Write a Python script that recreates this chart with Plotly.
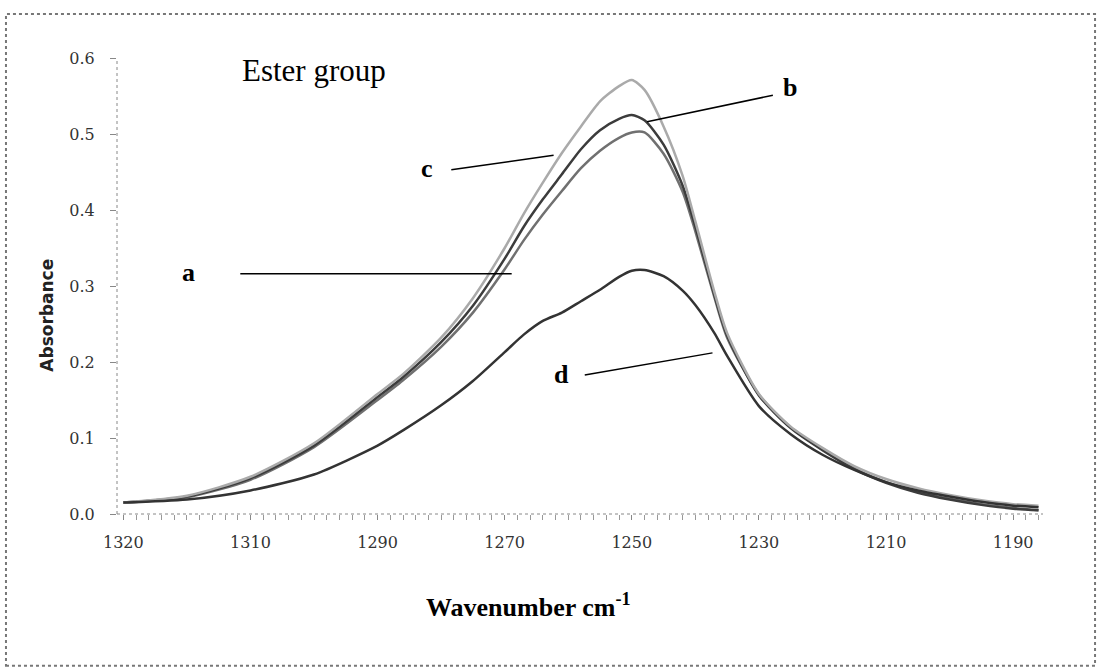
import plotly.graph_objects as go

# Wavenumber (cm-1) sample positions
wavenumber = [1330, 1320, 1310, 1300, 1290, 1286, 1280, 1275, 1270, 1267, 1264, 1261, 1258,
              1255, 1252, 1250, 1248, 1245, 1242, 1240, 1237, 1235, 1230, 1225, 1220,
              1215, 1210, 1205, 1200, 1195, 1190, 1186]

absorb_a = [0.015, 0.022, 0.045, 0.088, 0.150, 0.176, 0.220, 0.265, 0.322, 0.360, 0.394, 0.425, 0.455,
            0.478, 0.495, 0.502, 0.502, 0.474, 0.424, 0.372, 0.285, 0.232, 0.157, 0.114, 0.085,
            0.060, 0.042, 0.029, 0.020, 0.013, 0.008, 0.005]
absorb_b = [0.015, 0.023, 0.047, 0.090, 0.154, 0.180, 0.226, 0.274, 0.336, 0.378, 0.414, 0.447, 0.480,
            0.505, 0.520, 0.525, 0.518, 0.486, 0.432, 0.378, 0.288, 0.235, 0.156, 0.113, 0.084,
            0.059, 0.041, 0.028, 0.019, 0.012, 0.007, 0.005]
absorb_c = [0.015, 0.024, 0.049, 0.093, 0.158, 0.184, 0.232, 0.284, 0.350, 0.395, 0.436, 0.475, 0.510,
            0.543, 0.563, 0.571, 0.558, 0.510, 0.445, 0.385, 0.292, 0.238, 0.158, 0.115, 0.087,
            0.063, 0.046, 0.034, 0.025, 0.018, 0.013, 0.011]
absorb_d = [0.015, 0.019, 0.031, 0.052, 0.090, 0.110, 0.143, 0.175, 0.213, 0.236, 0.254, 0.265, 0.280,
            0.295, 0.312, 0.320, 0.321, 0.313, 0.294, 0.275, 0.238, 0.208, 0.142, 0.105, 0.078,
            0.058, 0.042, 0.031, 0.023, 0.016, 0.011, 0.009]

series_names = ["a", "b", "c", "d"]
series_colors = ["#707070", "#3c3c3c", "#aaaaaa", "#333333"]

x_tick_vals = [1330, 1310, 1290, 1270, 1250, 1230, 1210, 1190]
x_tick_text = ["1320", "1310", "1290", "1270", "1250", "1230", "1210", "1190"]
y_tick_vals = [0.0, 0.1, 0.2, 0.3, 0.4, 0.5, 0.6]

fig = go.Figure()
for name, ys, col in zip(series_names, [absorb_a, absorb_b, absorb_c, absorb_d], series_colors):
    fig.add_trace(go.Scatter(x=wavenumber, y=ys, mode="lines", name=name,
                             line=dict(color=col, width=2.5, shape="spline", smoothing=0.7),
                             showlegend=False))

serif = "Liberation Serif"

fig.update_layout(
    width=1101, height=670,
    margin=dict(l=117, r=58, t=58, b=156),
    paper_bgcolor="white", plot_bgcolor="white",
    xaxis=dict(range=[1331, 1185.3], autorange=False, showgrid=False, zeroline=False,
               showline=False, tickvals=x_tick_vals, ticktext=x_tick_text,
               ticks="outside", ticklen=5, tickcolor="#888", tickwidth=1,
               ticklabelstandoff=9,
               tickfont=dict(family="DejaVu Serif", size=16, color="#333"),
               minor=dict(dtick=2, tick0=1330, ticks="outside", ticklen=5, tickcolor="#999", tickwidth=1)),
    yaxis=dict(range=[0, 0.6], autorange=False, showgrid=False, zeroline=False,
               showline=False, tickvals=y_tick_vals, tickformat=".1f",
               ticks="outside", ticklen=6, tickcolor="#888", tickwidth=1,
               ticklabelstandoff=12,
               tickfont=dict(family="DejaVu Serif", size=16, color="#333")),
)

# dotted axis lines
fig.add_shape(type="line", xref="paper", yref="paper", x0=0, x1=1, y0=0, y1=0,
              line=dict(color="#888", width=1, dash="dot"))
fig.add_shape(type="line", xref="paper", yref="paper", x0=0, x1=0, y0=0, y1=1,
              line=dict(color="#888", width=1, dash="dot"))
# chart area border
fig.add_shape(type="rect", xref="paper", yref="paper", x0=-0.1199, x1=1.0562, y0=-0.333, y1=1.0965,
              line=dict(color="#777", width=2, dash="dot"))

# pointer lines for labels
pointers = [
    (1311.6, 0.316, 1268.9, 0.316),
    (1227.8, 0.551, 1247.6, 0.516),
    (1278.4, 0.453, 1262.3, 0.472),
    (1257.4, 0.183, 1237.3, 0.212),
]
for x0, y0, x1, y1 in pointers:
    fig.add_shape(type="line", xref="x", yref="y", x0=x0, y0=y0, x1=x1, y1=y1,
                  line=dict(color="black", width=1.5))

labels = [("a", 1319.8, 0.318), ("b", 1225.1, 0.561), ("c", 1282.3, 0.455), ("d", 1261.0, 0.183)]
for t, x, y in labels:
    fig.add_annotation(x=x, y=y, xref="x", yref="y", text="<b>%s</b>" % t, showarrow=False,
                       font=dict(family=serif, size=26, color="black"))

fig.add_annotation(x=1311.6, y=0.584, xref="x", yref="y", text="Ester group", showarrow=False,
                   xanchor="left", font=dict(family=serif, size=31, color="black"))
fig.add_annotation(x=1246.3, y=0.617, xref="x", yref="y", text="~1255 cm<sup>-1</sup>", showarrow=False,
                   xanchor="left", font=dict(family=serif, size=30, color="black"))

fig.add_annotation(x=-0.0886, y=0.437, xref="paper", yref="paper", text="<b>Absorbance</b>",
                   textangle=-90, showarrow=False,
                   font=dict(family="DejaVu Sans", size=17, color="#222"))
fig.add_annotation(x=0.444, y=-0.2, yanchor="middle", xref="paper", yref="paper",
                   text="<b>Wavenumber cm<sup>-1</sup></b>",
                   showarrow=False, font=dict(family=serif, size=26, color="black"))

fig.write_html("out.html")
